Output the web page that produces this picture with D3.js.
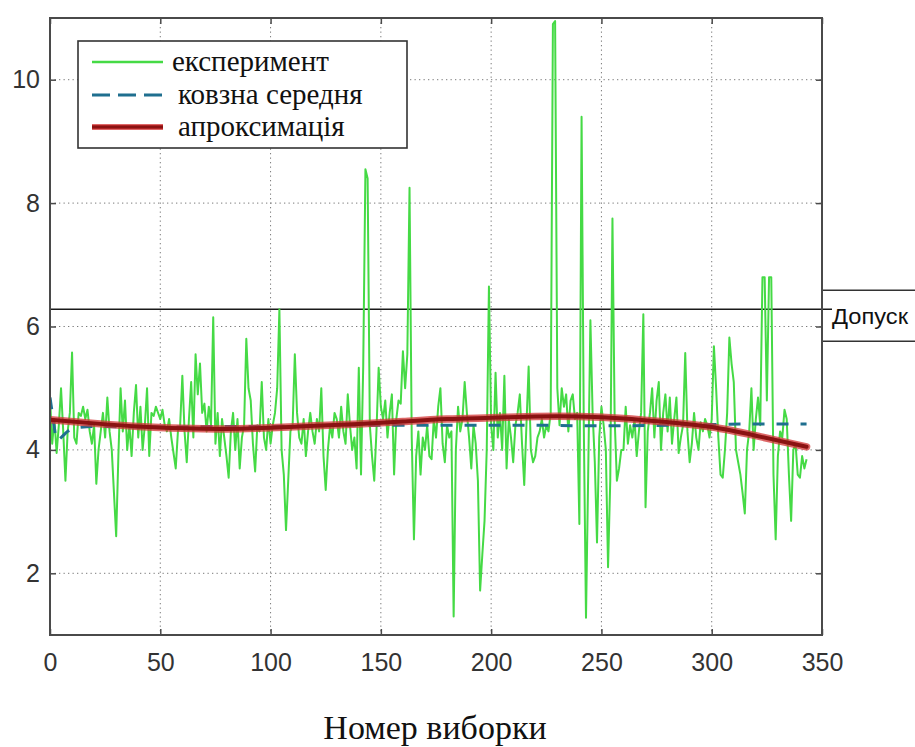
<!DOCTYPE html>
<html>
<head>
<meta charset="utf-8">
<script src="https://cdn.jsdelivr.net/npm/d3@7"></script>
<style>
  body { margin: 0; background: #fff; }
  svg { display: block; }
</style>
</head>
<body>
<svg id="chart" width="915" height="747"></svg>
<script>
// Measured samples (one value per sample number, 0..343)
const experiment = [
  4.85, 4.10, 4.50, 3.95, 4.40, 5.00, 4.30, 3.50, 4.30, 4.60,
  5.58, 4.20, 4.10, 4.60, 4.55, 4.70, 4.50, 4.65, 4.30, 4.10,
  4.40, 3.45, 4.00, 4.30, 4.60, 4.20, 4.85, 4.30, 4.00, 3.30,
  2.60, 3.90, 5.00, 4.30, 4.80, 4.00, 4.40, 3.90, 4.60, 5.05,
  4.20, 4.70, 4.00, 4.40, 5.00, 3.90, 4.60, 4.55, 4.70, 4.60,
  4.50, 4.65, 4.40, 4.30, 4.50, 4.20, 3.95, 3.70, 4.30, 4.40,
  5.20, 4.30, 3.80, 4.50, 5.10, 4.20, 5.55, 4.90, 5.40, 4.60,
  4.75, 4.30, 4.70, 4.40, 6.15, 4.10, 4.60, 3.90, 4.50, 4.20,
  3.90, 3.55, 4.30, 4.60, 4.00, 4.50, 3.70, 4.20, 4.40, 5.80,
  5.00, 4.80, 4.10, 3.65, 4.40, 4.30, 5.10, 4.20, 4.00, 4.50,
  4.10, 4.40, 4.60, 5.00, 6.28, 4.00, 3.60, 2.70, 3.50, 4.30,
  4.40, 5.55, 4.60, 4.20, 4.10, 4.50, 3.90, 4.30, 4.60, 4.30,
  4.10, 4.50, 4.30, 5.00, 3.90, 3.35, 4.00, 4.40, 4.20, 4.60,
  4.50, 4.20, 4.70, 4.30, 4.10, 4.90, 4.40, 4.00, 4.20, 3.70,
  5.33, 3.60, 5.35, 8.55, 8.40, 4.40, 3.90, 3.50, 4.30, 5.33,
  4.70, 4.50, 4.80, 4.20, 4.60, 4.90, 3.60, 4.50, 4.80, 4.75,
  5.60, 5.00, 5.55, 8.25, 4.20, 2.55, 3.90, 4.30, 3.60, 4.20,
  4.00, 4.40, 3.90, 3.85, 4.50, 4.20, 4.70, 5.00, 4.10, 3.80,
  4.40, 4.20, 4.30, 1.30, 4.00, 4.70, 4.30, 4.50, 5.10, 4.60,
  4.20, 3.70, 4.40, 4.10, 3.50, 1.72, 2.30, 2.85, 4.00, 6.65,
  4.40, 4.00, 5.25, 4.20, 4.60, 4.00, 5.20, 3.70, 4.50, 4.20,
  3.80, 4.40, 4.60, 4.90, 4.10, 3.43, 4.40, 5.35, 4.00, 3.80,
  3.90, 4.20, 4.30, 4.50, 4.20, 4.40, 4.30, 4.60, 10.90, 10.95,
  5.00, 4.40, 5.00, 4.70, 4.90, 4.30, 4.80, 4.90, 4.50, 4.60,
  2.80, 9.40, 4.40, 1.28, 3.60, 6.10, 4.60, 3.80, 2.50, 4.20,
  4.70, 4.40, 4.00, 2.10, 3.50, 7.75, 4.50, 3.50, 3.70, 4.00,
  4.00, 4.70, 4.10, 4.40, 4.20, 4.50, 3.90, 4.30, 4.60, 6.20,
  3.07, 4.30, 4.60, 5.00, 4.20, 4.80, 5.10, 4.00, 4.60, 4.90,
  4.30, 4.85, 4.10, 4.50, 4.85, 3.95, 4.20, 4.40, 5.57, 4.30,
  3.80, 4.10, 4.60, 4.20, 4.00, 4.45, 4.30, 4.50, 4.40, 4.20,
  4.50, 5.68, 5.00, 4.20, 3.60, 3.55, 4.00, 4.60, 5.82, 5.40,
  5.10, 4.00, 3.80, 3.60, 3.30, 2.97, 4.00, 4.30, 5.00, 4.00,
  4.50, 4.85, 4.40, 6.80, 6.80, 4.80, 6.80, 6.80, 3.60, 2.55,
  3.90, 4.30, 4.20, 4.65, 4.50, 3.60, 2.85, 4.00, 4.10, 3.60,
  3.55, 3.90, 3.70, 3.85
];

// Moving average (sample number, value)
const maIndex  = [0, 1, 2, 3, 5, 8, 12, 20, 40, 60, 80, 100, 120, 140, 160, 180, 200, 220, 240, 260, 280, 300, 320, 343];
const maValues = [4.85, 4.60, 4.35, 4.15, 4.20, 4.30, 4.36, 4.38, 4.37, 4.37, 4.38, 4.38, 4.39, 4.40, 4.40, 4.40, 4.40, 4.40, 4.39, 4.39, 4.40, 4.41, 4.42, 4.42];

// Polynomial approximation (sample number, value)
const fitIndex  = [0, 20, 40, 60, 80, 100, 120, 140, 160, 180, 200, 220, 240, 260, 280, 300, 320, 343];
const fitValues = [4.49, 4.43, 4.38, 4.35, 4.34, 4.36, 4.39, 4.42, 4.46, 4.50, 4.52, 4.54, 4.54, 4.51, 4.45, 4.37, 4.23, 4.05];

const xTicks = [0, 50, 100, 150, 200, 250, 300, 350];
const yTicks = [2, 4, 6, 8, 10];
const tolerance = 6.28;

const legendLabels = ["експеримент", "ковзна середня", "апроксимація"];
const xTitle = "Номер виборки";
const toleranceLabel = "Допуск";

// Layout
const plot = { left: 50, top: 18, right: 822, bottom: 635 };
const x = d3.scaleLinear().domain([0, 350]).range([plot.left, plot.right]);
const y = d3.scaleLinear().domain([1, 11]).range([plot.bottom, plot.top]);

const svg = d3.select("#chart");
const colors = { exp: "#45da45", ma: "#1f6f8f", fitOuter: "#d23434", fitInner: "#8a1212", frame: "#4a4a4a" };

svg.append("defs").append("clipPath").attr("id", "plotClip")
  .append("rect")
  .attr("x", plot.left).attr("y", plot.top)
  .attr("width", plot.right - plot.left).attr("height", plot.bottom - plot.top);

// Dotted grid
const grid = svg.append("g").attr("stroke", "#7a7a7a").attr("stroke-width", 1).attr("stroke-dasharray", "1.3,3.2");
grid.selectAll("line.gx").data(xTicks.slice(1, -1)).join("line")
  .attr("x1", d => x(d)).attr("x2", d => x(d)).attr("y1", plot.top).attr("y2", plot.bottom);
grid.selectAll("line.gy").data(yTicks).join("line")
  .attr("y1", d => y(d)).attr("y2", d => y(d)).attr("x1", plot.left).attr("x2", plot.right);

// Tolerance line and its label box
svg.append("line")
  .attr("x1", plot.left).attr("x2", plot.right + 10)
  .attr("y1", y(tolerance)).attr("y2", y(tolerance))
  .attr("stroke", "#1a1a1a").attr("stroke-width", 1.6);

const tolBox = svg.append("g");
tolBox.append("line").attr("x1", plot.right).attr("x2", 915).attr("y1", y(tolerance) - 19).attr("y2", y(tolerance) - 19)
  .attr("stroke", "#333").attr("stroke-width", 1.6);
tolBox.append("line").attr("x1", plot.right).attr("x2", 915).attr("y1", y(tolerance) + 32).attr("y2", y(tolerance) + 32)
  .attr("stroke", "#333").attr("stroke-width", 1.6);
tolBox.append("text").attr("x", plot.right + 10).attr("y", y(tolerance) + 15)
  .attr("font-family", "Liberation Sans, Arial, sans-serif").attr("font-size", 22)
  .attr("textLength", 76).attr("lengthAdjust", "spacingAndGlyphs")
  .attr("fill", "#111").text(toleranceLabel);

// Data series
const body = svg.append("g").attr("clip-path", "url(#plotClip)");

body.append("path").datum(experiment)
  .attr("fill", "none").attr("stroke", colors.exp).attr("stroke-width", 2).attr("stroke-linejoin", "round")
  .attr("d", d3.line().x((d, i) => x(i)).y(d => y(d)));

const maLine = d3.line().x(d => x(d[0])).y(d => y(d[1])).curve(d3.curveMonotoneX);
body.append("path").datum(maIndex.map((v, i) => [v, maValues[i]]))
  .attr("fill", "none").attr("stroke", colors.ma).attr("stroke-width", 3)
  .attr("stroke-dasharray", "12,12").attr("d", maLine);

const fitLine = d3.line().x(d => x(d[0])).y(d => y(d[1])).curve(d3.curveNatural);
const fitData = fitIndex.map((v, i) => [v, fitValues[i]]);
body.append("path").datum(fitData)
  .attr("fill", "none").attr("stroke", colors.fitOuter).attr("stroke-width", 7.5).attr("stroke-opacity", 0.75)
  .attr("stroke-linecap", "round").attr("d", fitLine);
body.append("path").datum(fitData)
  .attr("fill", "none").attr("stroke", colors.fitInner).attr("stroke-width", 4)
  .attr("stroke-linecap", "round").attr("d", fitLine);

// Axes with inward ticks on all four sides
const tickFont = "Liberation Sans, Arial, sans-serif";
function styleAxis(g) {
  g.select(".domain").remove();
  g.selectAll(".tick line").attr("stroke", colors.frame).attr("stroke-width", 1.5);
  g.selectAll(".tick text").attr("fill", "#333").attr("font-family", tickFont).attr("font-size", 25);
}
svg.append("g").attr("transform", `translate(0,${plot.bottom})`)
  .call(d3.axisBottom(x).tickValues(xTicks).tickSize(-6).tickPadding(18).tickFormat(d3.format("d")))
  .call(styleAxis);
svg.append("g").attr("transform", `translate(${plot.left},0)`)
  .call(d3.axisLeft(y).tickValues(yTicks).tickSize(-6).tickPadding(10).tickFormat(d3.format("d")))
  .call(styleAxis);
svg.append("g").attr("transform", `translate(0,${plot.top})`)
  .call(d3.axisTop(x).tickValues(xTicks).tickSize(-6).tickFormat(""))
  .call(styleAxis);
svg.append("g").attr("transform", `translate(${plot.right},0)`)
  .call(d3.axisRight(y).tickValues(yTicks).tickSize(-6).tickFormat(""))
  .call(styleAxis);

// Frame
svg.append("rect")
  .attr("x", plot.left).attr("y", plot.top)
  .attr("width", plot.right - plot.left).attr("height", plot.bottom - plot.top)
  .attr("fill", "none").attr("stroke", colors.frame).attr("stroke-width", 2);

// Legend
const legend = svg.append("g").attr("transform", "translate(78,41)");
legend.append("rect").attr("width", 329).attr("height", 107)
  .attr("fill", "#fff").attr("stroke", "#333").attr("stroke-width", 1.6);
const rowY = [21, 54, 86];
legend.append("line").attr("x1", 14).attr("x2", 85).attr("y1", rowY[0]).attr("y2", rowY[0])
  .attr("stroke", colors.exp).attr("stroke-width", 2.4);
legend.append("line").attr("x1", 14).attr("x2", 85).attr("y1", rowY[1]).attr("y2", rowY[1])
  .attr("stroke", colors.ma).attr("stroke-width", 3).attr("stroke-dasharray", "18,8");
legend.append("line").attr("x1", 14).attr("x2", 85).attr("y1", rowY[2]).attr("y2", rowY[2])
  .attr("stroke", colors.fitOuter).attr("stroke-width", 5.5);
legend.append("line").attr("x1", 14).attr("x2", 85).attr("y1", rowY[2]).attr("y2", rowY[2])
  .attr("stroke", colors.fitInner).attr("stroke-width", 3);
legend.selectAll("text").data(legendLabels).join("text")
  .attr("x", (d, i) => i === 0 ? 94 : 100)
  .attr("y", (d, i) => rowY[i] + 9)
  .attr("font-family", "Liberation Serif, Times New Roman, serif").attr("font-size", 29)
  .attr("fill", "#111").text(d => d);

// Axis title
svg.append("text").attr("x", 435).attr("y", 739).attr("text-anchor", "middle")
  .attr("font-family", "Liberation Serif, Times New Roman, serif").attr("font-size", 34)
  .attr("fill", "#111").text(xTitle);
</script>
</body>
</html>
